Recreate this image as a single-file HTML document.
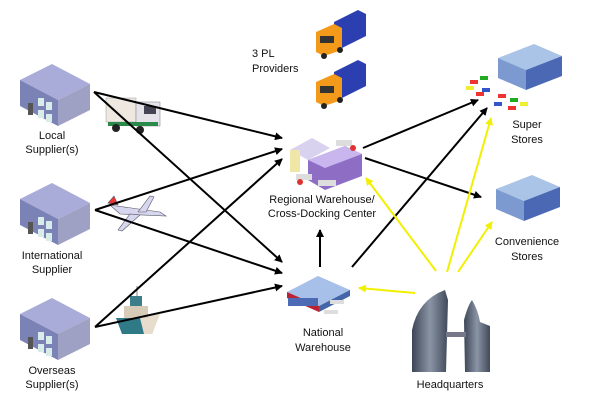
<!DOCTYPE html>
<html><head><meta charset="utf-8"><style>
html,body{margin:0;padding:0;background:#fff;}
svg{display:block}
text{font-family:"Liberation Sans",sans-serif;font-size:11px;fill:#111;text-anchor:middle}
</style></head><body>
<svg width="600" height="403" viewBox="0 0 600 403" xmlns="http://www.w3.org/2000/svg">
<defs>
<marker id="ab" markerWidth="8" markerHeight="8" refX="7" refY="4" orient="auto" markerUnits="userSpaceOnUse"><path d="M0,0 L8,4 L0,8 z" fill="#000"/></marker>
<marker id="ay" markerWidth="8" markerHeight="8" refX="7" refY="4" orient="auto" markerUnits="userSpaceOnUse"><path d="M0,0 L8,4 L0,8 z" fill="#f2f000"/></marker>
<linearGradient id="tw" x1="0" x2="1"><stop offset="0" stop-color="#3c4656"/><stop offset=".5" stop-color="#8a94a4"/><stop offset="1" stop-color="#404a5a"/></linearGradient>
<g id="bld">
<polygon points="0,22 32,6 70,26 38,42" fill="#a9acd8"/>
<polygon points="0,22 38,42 38,68 0,48" fill="#7b82b6"/>
<polygon points="38,42 70,26 70,52 38,68" fill="#9ea0c4"/>
<rect x="18" y="40" width="6" height="8" fill="#d8ecea"/><rect x="26" y="44" width="6" height="8" fill="#d8ecea"/>
<rect x="18" y="52" width="6" height="8" fill="#d8ecea"/><rect x="26" y="56" width="6" height="8" fill="#d8ecea"/>
<rect x="8" y="45" width="5" height="12" fill="#555"/>
</g>
<g id="trk">
<polygon points="18,12 42,0 50,4 50,26 26,38 18,34" fill="#2b3fb0"/>
<polygon points="0,22 18,14 26,18 26,40 8,46 0,42" fill="#f39a1a"/>
<rect x="4" y="26" width="14" height="7" fill="#333"/>
<circle cx="8" cy="46" r="3" fill="#222"/><circle cx="24" cy="40" r="3" fill="#222"/>
</g>
<g id="store">
<polygon points="0,14 36,0 64,12 28,26" fill="#a9c4e6"/>
<polygon points="0,14 28,26 28,46 0,34" fill="#7c9ad0"/>
<polygon points="28,26 64,12 64,32 28,46" fill="#4a68b4"/>
</g>
</defs>

<use href="#bld" x="20" y="58"/>
<use href="#bld" x="20" y="177"/>
<use href="#bld" x="20" y="292"/>
<text x="52" y="139">Local</text><text x="52" y="153">Supplier(s)</text>
<text x="52" y="259">International</text><text x="52" y="273">Supplier</text>
<text x="52" y="374">Overseas</text><text x="52" y="388">Supplier(s)</text>

<g>
<rect x="106" y="98" width="30" height="24" fill="#efe8e0" stroke="#999" stroke-width=".5"/>
<rect x="136" y="102" width="24" height="24" fill="#e6e2ea" stroke="#777" stroke-width=".5"/>
<rect x="144" y="106" width="12" height="8" fill="#445"/>
<rect x="108" y="122" width="50" height="4" fill="#2a8a4a"/>
<circle cx="116" cy="128" r="4" fill="#222"/><circle cx="140" cy="130" r="4" fill="#222"/>
</g>
<g fill="#d6d6ee" stroke="#556" stroke-width=".6">
<path d="M110,205 L160,212 L166,216 L120,214 z"/>
<path d="M138,212 L150,196 L154,197 L146,212 z"/>
<path d="M130,214 L118,230 L122,231 L140,215 z"/>
<path d="M108,203 L114,196 L118,205 z" fill="#e33"/>
</g>
<g>
<path d="M116,318 L158,318 L152,334 L122,334 z" fill="#2f7a86"/>
<path d="M140,318 L160,314 L152,334 L144,334 z" fill="#e8dccc"/>
<rect x="124" y="306" width="24" height="12" fill="#d8ccb8"/>
<rect x="130" y="296" width="12" height="10" fill="#3c7f8a"/>
<line x1="137" y1="286" x2="137" y2="296" stroke="#888"/>
</g>

<use href="#trk" x="316" y="10"/>
<use href="#trk" x="316" y="60"/>
<text x="252" y="57" style="text-anchor:start">3 PL</text>
<text x="252" y="72" style="text-anchor:start">Providers</text>

<g>
<polygon points="290,150 312,138 330,148 308,160" fill="#d9d2ee"/>
<rect x="290" y="150" width="10" height="22" fill="#f0e6a8"/>
<polygon points="308,160 345,146 362,154 362,176 325,190 308,180" fill="#8d6ec4"/>
<polygon points="308,160 345,146 362,154 325,168" fill="#c9b6ee"/>
<rect x="296" y="174" width="16" height="6" fill="#ddd"/><rect x="318" y="180" width="18" height="6" fill="#ddd"/>
<rect x="336" y="140" width="16" height="6" fill="#ddd"/>
<circle cx="300" cy="182" r="3" fill="#d33"/><circle cx="353" cy="148" r="3" fill="#d33"/>
</g>
<text x="322" y="203">Regional Warehouse/</text>
<text x="322" y="217">Cross-Docking Center</text>

<g>
<polygon points="287,292 318,276 350,290 319,306" fill="#a6c0ea"/>
<polygon points="287,292 319,306 319,312 287,298" fill="#b23"/>
<polygon points="319,306 350,290 350,296 319,312" fill="#4466a8"/>
<rect x="288" y="298" width="30" height="8" fill="#4d6ab4"/>
<rect x="330" y="300" width="14" height="4" fill="#ddd"/><rect x="324" y="310" width="14" height="4" fill="#ddd"/>
</g>
<text x="323" y="336">National</text>
<text x="323" y="351">Warehouse</text>

<use href="#store" x="498" y="44"/>
<g>
<rect x="470" y="80" width="8" height="4" fill="#e33"/><rect x="480" y="76" width="8" height="4" fill="#2a2"/>
<rect x="466" y="86" width="8" height="4" fill="#ee3"/><rect x="482" y="88" width="8" height="4" fill="#35c"/>
<rect x="498" y="94" width="8" height="4" fill="#e33"/><rect x="510" y="98" width="8" height="4" fill="#2a2"/>
<rect x="494" y="102" width="8" height="4" fill="#35c"/><rect x="520" y="102" width="8" height="4" fill="#ee3"/>
<rect x="508" y="106" width="8" height="4" fill="#e33"/><rect x="476" y="92" width="8" height="4" fill="#e33"/>
</g>
<text x="527" y="128">Super</text><text x="527" y="143">Stores</text>
<use href="#store" x="496" y="175"/>
<text x="527" y="245">Convenience</text><text x="527" y="260">Stores</text>

<g>
<path d="M412,372 L412,330 Q418,300 445,290 L448,300 L446,372 z" fill="url(#tw)"/>
<path d="M465,372 L464,320 Q468,305 472,300 Q478,310 480,322 L490,326 L490,372 z" fill="url(#tw)"/>
<rect x="446" y="332" width="20" height="5" fill="#778"/>
</g>
<text x="450" y="388">Headquarters</text>

<g stroke="#000" stroke-width="2" fill="none" marker-end="url(#ab)">
<line x1="94" y1="92" x2="282" y2="138"/>
<line x1="94" y1="92" x2="282" y2="262"/>
<line x1="95" y1="210" x2="282" y2="149"/>
<line x1="95" y1="210" x2="282" y2="273"/>
<line x1="95" y1="327" x2="282" y2="159"/>
<line x1="95" y1="327" x2="282" y2="286"/>
<line x1="363" y1="148" x2="478" y2="100"/>
<line x1="365" y1="158" x2="481" y2="197"/>
<line x1="352" y1="267" x2="487" y2="108"/>
<line x1="320" y1="267" x2="320" y2="230"/>
</g>
<g stroke="#f2f000" stroke-width="2" fill="none" marker-end="url(#ay)">
<line x1="436" y1="271" x2="366" y2="178"/>
<line x1="415" y1="293" x2="359" y2="288"/>
<line x1="447" y1="272" x2="491" y2="118"/>
<line x1="458" y1="272" x2="492" y2="222"/>
</g>
</svg>
</body></html>
